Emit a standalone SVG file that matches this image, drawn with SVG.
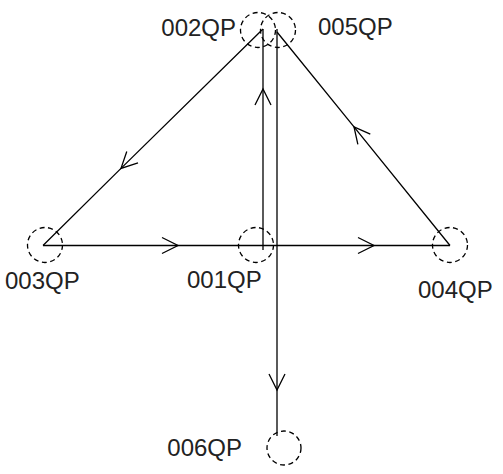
<svg xmlns="http://www.w3.org/2000/svg" width="503" height="474" viewBox="0 0 503 474">
<style>
.node circle{fill:none;stroke:#000;stroke-width:1.3;stroke-dasharray:5,3.5}
.node text{font-family:"Liberation Sans",Arial,sans-serif;font-size:24px;fill:#222}
.edge{fill:none;stroke:#000;stroke-width:1.3;marker-mid:url(#arr)}
</style>
<defs>
<marker id="arr" markerUnits="userSpaceOnUse" markerWidth="20" markerHeight="20" viewBox="-18 -10 20 20" refX="0" refY="0" orient="auto">
<path d="M-16,-8 L0,0 L-16,8" fill="none" stroke="#000" stroke-width="1.3"/>
</marker>
</defs>
<rect width="503" height="474" fill="#fff"/>
<g id="connectors">
<polyline class="edge" points="43,245.5 178,245.5 263,245.5"/>
<polyline class="edge" points="263,245.5 374,245.5 450,245.5"/>
<polyline class="edge" points="263,250 263,89 263,29"/>
<polyline class="edge" points="263,29 121,168.4 43,245.5"/>
<polyline class="edge" points="450,245.5 354,126.8 277,32"/>
<polyline class="edge" points="277,29 277,390 277,436"/>
</g>
<g id="n002" class="node"><circle cx="258" cy="30" r="17.5"/><text x="236" y="36" text-anchor="end">002QP</text></g>
<g id="n005" class="node"><circle cx="278" cy="30" r="17.5"/><text x="318" y="35">005QP</text></g>
<g id="n003" class="node"><circle cx="45" cy="245" r="17.5"/><text x="5" y="289">003QP</text></g>
<g id="n001" class="node"><circle cx="256" cy="245" r="17.5"/><text x="187" y="288">001QP</text></g>
<g id="n004" class="node"><circle cx="450" cy="245" r="17.5"/><text x="418" y="298">004QP</text></g>
<g id="n006" class="node"><circle cx="284" cy="448" r="17"/><text x="242" y="456" text-anchor="end">006QP</text></g>
</svg>
